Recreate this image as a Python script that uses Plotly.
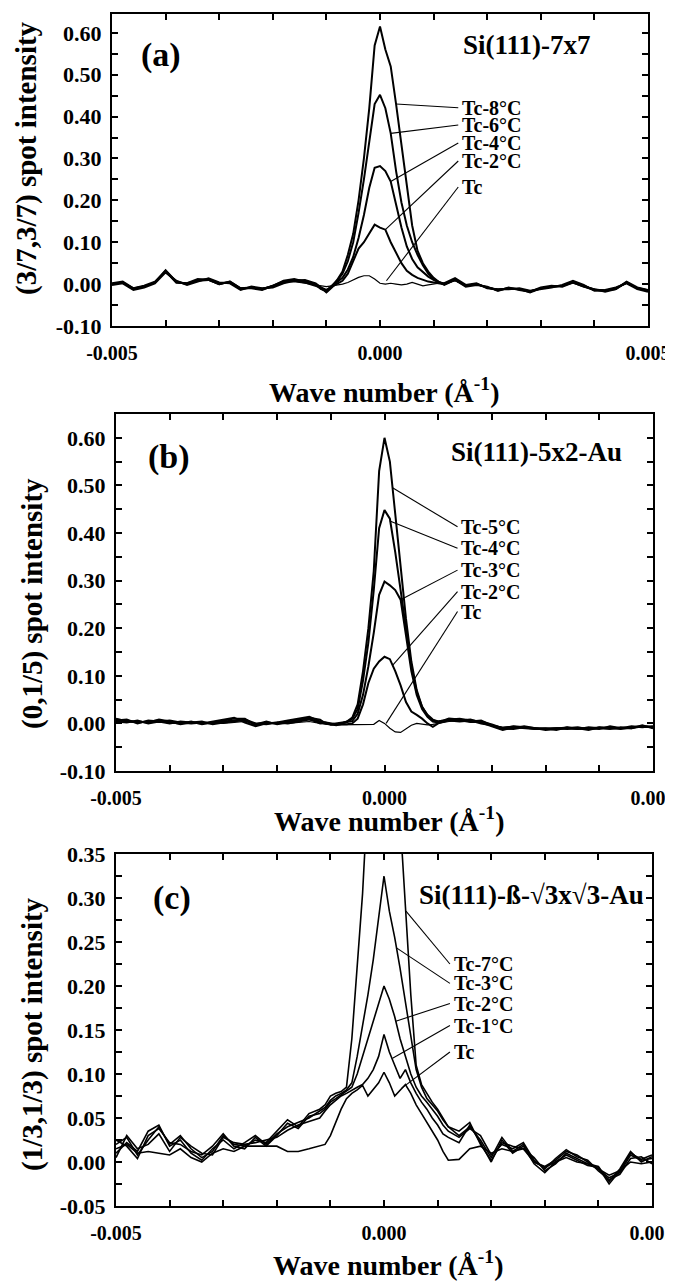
import numpy as np
import plotly.graph_objects as go

# wave number grid in units of 1e-4 1/A (coarse in the wings, fine near the peak)
GRID = [-50, -48, -46, -44, -42, -40, -38, -36, -34, -32, -30, -28, -26, -24, -22, -20, -18, -16, -14,
        -12, -11, -10, -9, -8, -7, -6, -5, -4, -3, -2, -1, 0, 1, 2, 3, 4, 5, 6, 7, 8, 9, 10, 11, 12,
        14, 16, 18, 20, 22, 24, 26, 28, 30, 32, 34, 36, 38, 40, 42, 44, 46, 48, 50]
X = np.array(GRID) * 1e-4

# ---- (a) Si(111)-7x7, (3/7,3/7) spot ----
A_TC8 = [0.000, 0.004, -0.012, -0.006, 0.004, 0.033, 0.006, 0.000, 0.010, 0.012, 0.002, 0.004, -0.012, -0.008, -0.012, -0.006, 0.004, 0.010, 0.008,
         0.000, -0.010, -0.018, -0.006, 0.010, 0.030, 0.070, 0.120, 0.200, 0.300, 0.420, 0.570, 0.615,
         0.560, 0.520, 0.430, 0.330, 0.230, 0.140, 0.080, 0.050, 0.030, 0.015, 0.005, 0.000,
         0.012, -0.004, 0.000, -0.008, -0.014, -0.010, -0.012, -0.020, -0.010, -0.006, -0.004, 0.006, -0.004, -0.014, -0.016, -0.010, 0.004, -0.010, -0.016]
A_TC6 = [0.002, 0.006, -0.010, -0.004, 0.006, 0.030, 0.004, 0.002, 0.012, 0.010, 0.000, 0.006, -0.010, -0.010, -0.014, -0.004, 0.008, 0.012, 0.006,
         -0.002, -0.012, -0.016, -0.004, 0.008, 0.025, 0.055, 0.100, 0.170, 0.250, 0.340, 0.430, 0.452,
         0.420, 0.360, 0.270, 0.195, 0.140, 0.100, 0.070, 0.045, 0.025, 0.012, 0.004, -0.002,
         0.010, -0.006, -0.002, -0.006, -0.016, -0.008, -0.014, -0.018, -0.008, -0.004, -0.006, 0.004, -0.006, -0.012, -0.018, -0.012, 0.006, -0.008, -0.014]
A_TC4 = [-0.002, 0.002, -0.014, -0.008, 0.002, 0.028, 0.008, -0.002, 0.006, 0.014, 0.004, 0.002, -0.014, -0.006, -0.010, -0.008, 0.002, 0.008, 0.010,
         0.002, -0.008, -0.020, -0.008, 0.005, 0.015, 0.035, 0.065, 0.110, 0.165, 0.230, 0.278, 0.282,
         0.270, 0.245, 0.190, 0.135, 0.090, 0.060, 0.040, 0.028, 0.018, 0.010, 0.004, 0.002,
         0.014, -0.002, 0.002, -0.010, -0.012, -0.012, -0.010, -0.016, -0.012, -0.008, -0.002, 0.008, -0.002, -0.016, -0.014, -0.008, 0.002, -0.012, -0.018]
A_TC2 = [0.000, 0.004, -0.010, -0.006, 0.004, 0.032, 0.004, 0.002, 0.008, 0.010, 0.000, 0.006, -0.010, -0.008, -0.012, -0.004, 0.006, 0.008, 0.004,
         -0.004, -0.008, -0.014, -0.006, 0.000, 0.008, 0.025, 0.055, 0.085, 0.100, 0.120, 0.142, 0.135,
         0.130, 0.100, 0.075, 0.050, 0.032, 0.022, 0.015, 0.010, 0.006, 0.004, 0.002, 0.000,
         0.010, -0.004, 0.000, -0.008, -0.014, -0.010, -0.012, -0.018, -0.010, -0.006, -0.004, 0.004, -0.006, -0.014, -0.016, -0.012, 0.004, -0.010, -0.016]
A_TC0 = [0.000, 0.004, -0.010, -0.004, 0.004, 0.030, 0.004, 0.000, 0.008, 0.010, 0.000, 0.004, -0.010, -0.008, -0.010, -0.004, 0.004, 0.006, 0.002,
         -0.002, -0.004, -0.006, -0.004, -0.002, 0.000, 0.004, 0.010, 0.016, 0.020, 0.020, 0.012, 0.002,
         0.000, 0.002, 0.000, -0.002, 0.000, 0.004, 0.000, -0.004, -0.002, 0.000, 0.002, 0.000,
         0.008, -0.004, 0.000, -0.008, -0.012, -0.010, -0.012, -0.016, -0.010, -0.006, -0.004, 0.004, -0.004, -0.012, -0.014, -0.010, 0.002, -0.008, -0.014]
A_LABELS = ["Tc-8°C", "Tc-6°C", "Tc-4°C", "Tc-2°C", "Tc"]
A_LABEL_Y = [0.421, 0.380, 0.337, 0.294, 0.232]
A_PTR_X = [0.00030, 0.00020, 0.00020, 0.00010, 0.00012]
A_PTR_Y = [0.430, 0.360, 0.245, 0.130, 0.008]

# ---- (b) Si(111)-5x2-Au, (0,1/5) spot ----
B_TC5 = [0.008, 0.006, 0.002, 0.004, 0.006, 0.002, 0.000, 0.004, -0.002, 0.002, 0.006, 0.010, 0.010, -0.004, 0.002, 0.000, 0.004, 0.008, 0.012,
         0.008, 0.000, -0.002, -0.002, 0.000, 0.004, 0.012, 0.040, 0.110, 0.200, 0.320, 0.530, 0.600,
         0.550, 0.440, 0.330, 0.220, 0.130, 0.070, 0.035, 0.018, 0.008, 0.004, 0.006, 0.010,
         0.008, 0.004, 0.006, -0.004, -0.012, -0.010, -0.006, -0.010, -0.014, -0.012, -0.010, -0.008, -0.012, -0.010, -0.008, -0.010, -0.006, -0.008, -0.006]
B_TC4 = [0.010, 0.004, 0.004, 0.002, 0.008, 0.004, -0.002, 0.002, 0.000, 0.004, 0.008, 0.012, 0.002, -0.006, 0.000, 0.002, 0.006, 0.010, 0.014,
         0.004, 0.002, 0.000, -0.002, 0.000, 0.003, 0.010, 0.030, 0.090, 0.170, 0.280, 0.410, 0.448,
         0.430, 0.360, 0.280, 0.200, 0.120, 0.065, 0.035, 0.016, 0.006, 0.004, 0.006, 0.008,
         0.010, 0.006, 0.004, -0.002, -0.010, -0.012, -0.008, -0.012, -0.012, -0.010, -0.012, -0.010, -0.014, -0.008, -0.010, -0.012, -0.008, -0.006, -0.008]
B_TC3 = [0.006, 0.008, 0.000, 0.006, 0.004, 0.006, 0.002, 0.000, 0.002, 0.000, 0.004, 0.006, 0.006, -0.002, 0.004, -0.002, 0.002, 0.006, 0.010,
         0.000, 0.002, -0.002, 0.000, 0.002, 0.003, 0.005, 0.020, 0.060, 0.120, 0.190, 0.270, 0.298,
         0.290, 0.280, 0.260, 0.185, 0.110, 0.060, 0.030, 0.014, 0.004, 0.002, 0.004, 0.008,
         0.006, 0.008, 0.002, -0.006, -0.014, -0.008, -0.010, -0.012, -0.010, -0.014, -0.008, -0.012, -0.010, -0.012, -0.006, -0.010, -0.010, -0.004, -0.010]
B_TC2 = [0.004, 0.002, 0.006, 0.000, 0.004, 0.000, 0.004, 0.002, 0.004, -0.002, 0.002, 0.004, 0.008, 0.000, -0.002, 0.002, 0.000, 0.004, 0.008,
         0.002, 0.000, -0.002, -0.004, -0.002, -0.002, 0.000, 0.010, 0.040, 0.085, 0.115, 0.130, 0.140,
         0.135, 0.110, 0.080, 0.045, 0.025, 0.018, 0.010, 0.000, -0.007, 0.000, 0.004, 0.006,
         0.004, 0.006, 0.000, -0.004, -0.010, -0.006, -0.008, -0.010, -0.012, -0.010, -0.010, -0.012, -0.008, -0.010, -0.012, -0.008, -0.010, -0.006, -0.008]
B_TC0 = [0.006, 0.004, 0.002, 0.004, 0.002, 0.002, 0.000, 0.002, 0.002, 0.000, 0.000, 0.002, 0.004, 0.000, 0.002, 0.000, 0.000, 0.002, 0.004,
         0.000, -0.002, -0.003, -0.003, -0.003, -0.003, -0.003, -0.003, -0.003, -0.002, -0.002, 0.006, 0.000,
         -0.010, -0.018, -0.019, -0.012, -0.004, 0.000, -0.002, -0.003, -0.002, 0.000, 0.002, 0.004,
         0.006, 0.002, 0.002, -0.004, -0.008, -0.006, -0.008, -0.010, -0.010, -0.010, -0.008, -0.010, -0.010, -0.008, -0.010, -0.010, -0.008, -0.006, -0.006]
B_LABELS = ["Tc-5°C", "Tc-4°C", "Tc-3°C", "Tc-2°C", "Tc"]
B_LABEL_Y = [0.413, 0.368, 0.322, 0.277, 0.235]
B_PTR_X = [0.00015, 0.00010, 0.00030, 0.00015, 0.00003]
B_PTR_Y = [0.495, 0.425, 0.260, 0.122, 0.000]

# ---- (c) Si(111)-beta-sqrt3 x sqrt3-Au, (1/3,1/3) spot ----
C_TC7 = [0.020, 0.028, 0.008, 0.025, 0.040, 0.020, 0.030, 0.015, 0.005, 0.012, 0.030, 0.020, 0.018, 0.025, 0.022, 0.035, 0.048, 0.040, 0.055,
         0.060, 0.065, 0.075, 0.078, 0.080, 0.085, 0.140, 0.220, 0.305, 0.420, 0.550, 0.620, 0.650,
         0.620, 0.520, 0.390, 0.290, 0.190, 0.110, 0.088, 0.078, 0.068, 0.060, 0.050, 0.040,
         0.030, 0.040, 0.025, 0.005, 0.028, 0.012, 0.020, 0.000, -0.005, 0.002, 0.012, 0.008, 0.000, -0.008, -0.018, -0.012, 0.008, 0.002, 0.004]
C_TC3 = [0.010, 0.022, 0.012, 0.035, 0.042, 0.018, 0.025, 0.010, 0.002, 0.015, 0.025, 0.015, 0.022, 0.030, 0.020, 0.032, 0.040, 0.045, 0.050,
         0.058, 0.062, 0.070, 0.075, 0.078, 0.082, 0.090, 0.120, 0.155, 0.190, 0.230, 0.280, 0.325,
         0.285, 0.255, 0.220, 0.180, 0.140, 0.105, 0.085, 0.072, 0.065, 0.058, 0.048, 0.040,
         0.035, 0.045, 0.020, 0.002, 0.022, 0.018, 0.015, 0.005, -0.010, -0.002, 0.010, 0.004, -0.002, -0.005, -0.022, -0.008, 0.012, 0.000, 0.006]
C_TC2 = [0.025, 0.018, 0.004, 0.030, 0.038, 0.022, 0.020, 0.012, 0.008, 0.018, 0.032, 0.018, 0.015, 0.028, 0.018, 0.030, 0.044, 0.038, 0.052,
         0.055, 0.060, 0.068, 0.072, 0.076, 0.080, 0.085, 0.100, 0.120, 0.140, 0.160, 0.180, 0.200,
         0.185, 0.165, 0.140, 0.120, 0.100, 0.085, 0.075, 0.068, 0.060, 0.052, 0.042, 0.035,
         0.028, 0.038, 0.030, 0.008, 0.020, 0.015, 0.022, 0.002, -0.008, 0.004, 0.014, 0.006, 0.002, -0.010, -0.020, -0.014, 0.004, 0.006, -0.002]
C_TC1 = [0.005, 0.030, 0.015, 0.020, 0.032, 0.012, 0.028, 0.018, 0.010, 0.008, 0.028, 0.022, 0.020, 0.022, 0.025, 0.028, 0.036, 0.042, 0.046,
         0.050, 0.058, 0.065, 0.070, 0.075, 0.078, 0.082, 0.085, 0.088, 0.095, 0.105, 0.120, 0.145,
         0.125, 0.110, 0.095, 0.105, 0.090, 0.078, 0.068, 0.060, 0.050, 0.042, 0.032, 0.028,
         0.022, 0.042, 0.022, 0.000, 0.025, 0.010, 0.018, -0.002, -0.012, 0.000, 0.008, 0.002, -0.004, -0.006, -0.025, -0.010, 0.010, 0.003, 0.008]
C_TC0 = [0.015, 0.020, 0.010, 0.012, 0.010, 0.008, 0.015, 0.005, 0.000, 0.010, 0.015, 0.012, 0.018, 0.018, 0.018, 0.018, 0.012, 0.012, 0.015,
         0.018, 0.020, 0.030, 0.045, 0.060, 0.072, 0.078, 0.082, 0.087, 0.075, 0.083, 0.090, 0.102,
         0.090, 0.075, 0.082, 0.088, 0.078, 0.065, 0.055, 0.045, 0.035, 0.025, 0.012, 0.002,
         0.003, 0.015, 0.018, 0.010, 0.015, 0.012, 0.015, 0.000, -0.006, 0.000, 0.005, 0.000, -0.002, -0.008, -0.015, -0.010, 0.000, -0.002, 0.000]
C_LABELS = ["Tc-7°C", "Tc-3°C", "Tc-2°C", "Tc-1°C", "Tc"]
C_LABEL_Y = [0.225, 0.203, 0.180, 0.155, 0.125]
C_PTR_X = [0.00041, 0.00024, 0.00022, 0.00016, 0.00033]
C_PTR_Y = [0.285, 0.243, 0.160, 0.118, 0.084]

X_TICKS = [-0.005, -0.004, -0.003, -0.002, -0.001, 0.0, 0.001, 0.002, 0.003, 0.004, 0.005]
X_TEXT = ["-0.005", "", "", "", "", "0.000", "", "", "", "", "0.005"]
AB_YTICKS = [-0.10, -0.05, 0.00, 0.05, 0.10, 0.15, 0.20, 0.25, 0.30, 0.35, 0.40, 0.45, 0.50, 0.55, 0.60]
AB_YTEXT = ["-0.10", "", "0.00", "", "0.10", "", "0.20", "", "0.30", "", "0.40", "", "0.50", "", "0.60"]
C_YTICKS = [-0.05, -0.025, 0.0, 0.025, 0.05, 0.075, 0.10, 0.125, 0.15, 0.175, 0.20, 0.225, 0.25, 0.275, 0.30, 0.325, 0.35]
C_YTEXT = ["-0.05", "", "0.00", "", "0.05", "", "0.10", "", "0.15", "", "0.20", "", "0.25", "", "0.30", "", "0.35"]

W, H = 673, 1282
FONT = "Liberation Serif"

panels = [
    dict(n="", box=(104, 640, 6, 318), yr=[-0.1, 0.645], yt=AB_YTICKS, ytx=AB_YTEXT,
         curves=[A_TC8, A_TC6, A_TC4, A_TC2, A_TC0], widths=[2, 2, 2, 2, 1.2],
         labels=A_LABELS, ly=A_LABEL_Y, lx=0.00149, px=A_PTR_X, py=A_PTR_Y,
         letter="(a)", let_xy=(-0.00409, 0.547), name="Si(111)-7x7", name_xy=(0.00274, 0.571),
         ytitle="(3/7,3/7) spot intensity", ytitle_px=(19, 150), xtitle_py=382),
    dict(n="2", box=(108, 645, 406, 763), yr=[-0.1, 0.65], yt=AB_YTICKS, ytx=AB_YTEXT,
         curves=[B_TC5, B_TC4, B_TC3, B_TC2, B_TC0], widths=[2, 2, 2, 2, 1.2],
         labels=B_LABELS, ly=B_LABEL_Y, lx=0.00139, px=B_PTR_X, py=B_PTR_Y,
         letter="(b)", let_xy=(-0.00401, 0.560), name="Si(111)-5x2-Au", name_xy=(0.00283, 0.571),
         ytitle="(0,1/5) spot intensity", ytitle_px=(24, 596), xtitle_py=811),
    dict(n="3", box=(108, 644, 846, 1198), yr=[-0.05, 0.35], yt=C_YTICKS, ytx=C_YTEXT,
         curves=[C_TC7, C_TC3, C_TC2, C_TC1, C_TC0], widths=[1.6, 1.6, 1.6, 1.6, 1.6],
         labels=C_LABELS, ly=C_LABEL_Y, lx=0.00126, px=C_PTR_X, py=C_PTR_Y,
         letter="(c)", let_xy=(-0.00396, 0.300), name="Si(111)-ß-√3x√3-Au", name_xy=(0.00275, 0.303),
         ytitle="(1/3,1/3) spot intensity", ytitle_px=(24, 1026), xtitle_py=1255),
]

fig = go.Figure()
annotations = []
ytick_font = dict(family=FONT, size=22, color="black", weight="bold")
xtick_font = dict(family=FONT, size=20, color="black", weight="bold")

for p in panels:
    xa, ya = "x" + p["n"], "y" + p["n"]
    x0, x1, y0, y1 = p["box"]
    for vals, lw in zip(p["curves"], p["widths"]):
        fig.add_trace(go.Scatter(x=X, y=vals, mode="lines", xaxis=xa, yaxis=ya,
                                 line=dict(color="black", width=lw), showlegend=False))
    # leader lines from each curve to its label
    for lab, ly, ptx, pty in zip(p["labels"], p["ly"], p["px"], p["py"]):
        fig.add_trace(go.Scatter(x=[ptx, p["lx"] - 0.00003], y=[pty, ly], mode="lines",
                                 xaxis=xa, yaxis=ya, line=dict(color="black", width=1.1),
                                 showlegend=False))
        annotations.append(dict(x=p["lx"], y=ly, xref=xa, yref=ya, text=lab, showarrow=False,
                                xanchor="left", yanchor="middle",
                                font=dict(family=FONT, size=20, color="black", weight="bold")))
    annotations.append(dict(x=p["let_xy"][0], y=p["let_xy"][1], xref=xa, yref=ya, text=p["letter"],
                            showarrow=False, xanchor="center", yanchor="middle",
                            font=dict(family=FONT, size=34, color="black", weight="bold")))
    annotations.append(dict(x=p["name_xy"][0], y=p["name_xy"][1], xref=xa, yref=ya, text=p["name"],
                            showarrow=False, xanchor="center", yanchor="middle",
                            font=dict(family=FONT, size=27, color="black", weight="bold")))
    annotations.append(dict(x=p["ytitle_px"][0] / W, y=1 - p["ytitle_px"][1] / H, xref="paper", yref="paper",
                            text=p["ytitle"], textangle=-90, showarrow=False,
                            xanchor="center", yanchor="middle",
                            font=dict(family=FONT, size=29, color="black", weight="bold")))
    annotations.append(dict(x=((x0 + x1) / 2 + 4) / W, y=1 - p["xtitle_py"] / H, xref="paper", yref="paper",
                            text="Wave number (Å<sup>-1</sup>)", showarrow=False,
                            xanchor="center", yanchor="middle",
                            font=dict(family=FONT, size=28, color="black", weight="bold")))

    common = dict(showline=True, linewidth=2, linecolor="black", mirror="ticks", ticks="inside",
                  ticklen=6, tickwidth=1.5, tickcolor="black", showgrid=False, zeroline=False,
                  tickmode="array", automargin=False)
    fig.update_layout({
        "xaxis" + p["n"]: dict(common, domain=[x0 / W, x1 / W], range=[-0.005, 0.005], anchor=ya,
                               tickvals=X_TICKS, ticktext=X_TEXT, tickfont=xtick_font,
                               ticklabelstandoff=8),
        "yaxis" + p["n"]: dict(common, domain=[1 - y1 / H, 1 - y0 / H], range=p["yr"], anchor=xa,
                               tickvals=p["yt"], ticktext=p["ytx"], tickfont=ytick_font,
                               ticklabelstandoff=4),
    })

fig.update_layout(width=W, height=H, margin=dict(l=0, r=0, t=0, b=0),
                  plot_bgcolor="white", paper_bgcolor="white", annotations=annotations,
                  font=dict(family=FONT, color="black"))

fig.write_html("out.html")
